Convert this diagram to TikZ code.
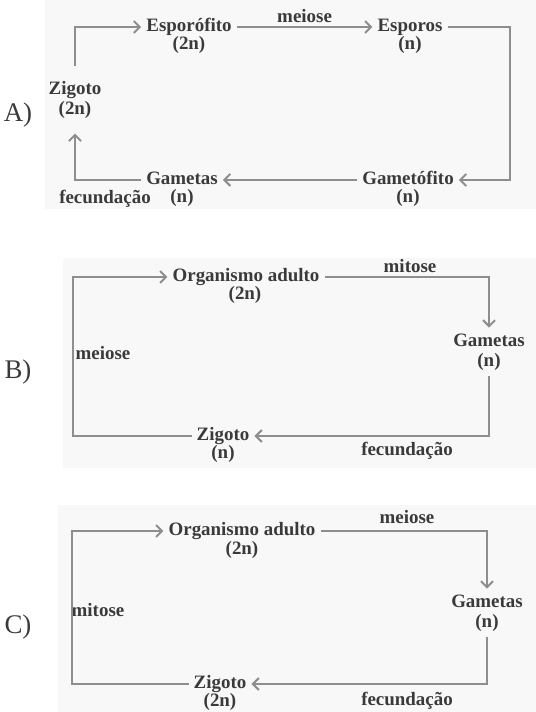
\documentclass[tikz,border=0pt]{standalone}
\usepackage{fontspec}
\setmainfont{Liberation Serif}
\usepackage{tikz}
\usetikzlibrary{arrows.meta}
\usetikzlibrary{positioning}
\definecolor{txtgray}{HTML}{3A3A3A}
\definecolor{linegray}{HTML}{8E8E8E}
\definecolor{panelgray}{HTML}{F8F8F8}
\tikzset{
	lbl/.style={font=\fontsize{19}{21}\selectfont\bfseries, text=txtgray, inner xsep=5pt, inner ysep=0pt, text height=13pt, text depth=4pt},
	sub/.style={lbl, text height=11pt, text depth=3pt},
	stack/.style={font=\fontsize{19}{20}\selectfont\bfseries, text=txtgray, align=center, inner xsep=5pt},
	cyc/.style={draw=linegray, line width=2pt},
	letter/.style={font=\fontsize{27}{30}\selectfont, text=txtgray}
}

\begin{document}
\begin{tikzpicture}[x=1bp, y=1bp, >={Straight Barb[length=6pt,width=12pt]}]
	\useasboundingbox (0,0) rectangle (536,712);
	% panels
	\fill[panelgray] (45,503) rectangle (536,712);
	\fill[panelgray] (63,244) rectangle (536,454);
	\fill[panelgray] (58,0) rectangle (536,207);

	% A)
	\node[letter] (la) at (18,597) {A)};
	\node[lbl] (aesp) at (189,685) {Esporófito};
	\node[sub] (aesp-p) at (189,666) {(2n)};
	\node[lbl] (aspo) at (410,685) {Esporos};
	\node[sub] (aspo-p) at (410,666) {(n)};
	\node[lbl] (agmf) at (408,532) {Gametófito};
	\node[sub] (agmf-p) at (408,513) {(n)};
	\node[lbl] (agam) at (182,532) {Gametas};
	\node[sub] (agam-p) at (182,513) {(n)};
	\node[lbl] (afec) at (105,513) {fecundação};
	\node[stack, inner ysep=15pt] (azig) at (75,612) {Zigoto\\(2n)};
	\draw[cyc,->] (azig.north) |- (aesp.west);
	\draw[cyc,->] (aesp.east) -- node[lbl, above, text height=, text depth=, inner ysep=3pt] (amei) {meiose} (aspo.west);
	\draw[cyc,->] (aspo.east) -- ++(62,0) |- (agmf.east);
	\draw[cyc,->] (agmf.west) -- (agam.east);
	\draw[cyc,->] (agam.west) -| (azig.south);

	% B)
	\node[letter] (lb) at (18,340) {B)};
	\node[lbl] (borg) at (246,435) {Organismo adulto};
	\node[sub] (borg-p) at (245,416) {(2n)};
	\node[stack, inner ysep=6pt] (bgam) at (489,360) {Gametas\\(n)};
	\node[lbl] (bzig) at (223,276) {Zigoto};
	\node[sub] (bzig-p) at (223,257) {(n)};
	\node[lbl] (bmit) at (410,444) {mitose};
	\node[lbl] (bmei) at (103,357) {meiose};
	\node[lbl] (bfec) at (407,261) {fecundação};
	\draw[cyc,->] (bzig.west) -- ++(-119,0) |- (borg.west);
	\draw[cyc,->] (borg.east) -| (bgam.north);
	\draw[cyc,->] (bgam.south) |- (bzig.east);

	% C)
	\node[letter] (lc) at (18,85) {C)};
	\node[lbl] (corg) at (242,181) {Organismo adulto};
	\node[sub] (corg-p) at (242,161) {(2n)};
	\node[stack, inner ysep=6pt] (cgam) at (487,99) {Gametas\\(n)};
	\node[lbl] (czig) at (220,28) {Zigoto};
	\node[sub] (czig-p) at (220,9) {(2n)};
	\node[lbl] (cmei) at (407,193) {meiose};
	\node[lbl] (cmit) at (98,100) {mitose};
	\node[lbl] (cfec) at (407,11) {fecundação};
	\draw[cyc,->] (czig.west) -- ++(-117,0) |- (corg.west);
	\draw[cyc,->] (corg.east) -| (cgam.north);
	\draw[cyc,->] (cgam.south) |- (czig.east);
\end{tikzpicture}
\end{document}
